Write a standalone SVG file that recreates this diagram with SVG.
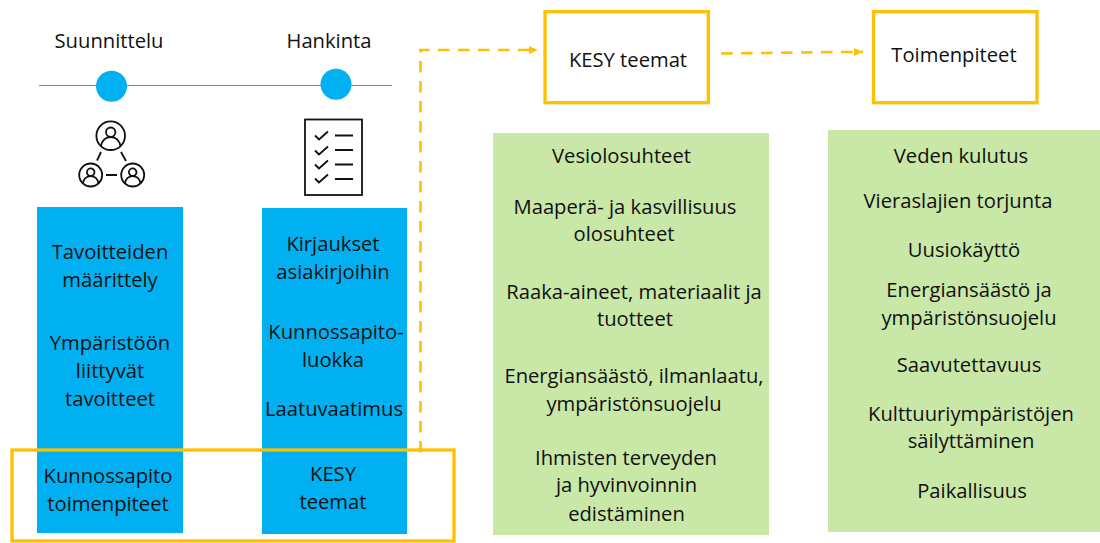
<svg xmlns="http://www.w3.org/2000/svg" width="1100" height="543" viewBox="0 0 1100 543">
<defs>
<marker id="ah" markerUnits="userSpaceOnUse" markerWidth="11" markerHeight="10" refX="10" refY="5" orient="auto"><path d="M1 1L10 5L1 9Z" fill="#ffc000"/></marker>
<g id="person"><circle cx="0" cy="0" r="14.300" class="ic"/><circle cx="0" cy="-3.500" r="4.700" class="ic"/><path d="M-9.800 10.300C-8 3 -4 1.500 0 1.500C4 1.500 8 3 9.800 10.300" class="ic"/></g>
<g id="person2"><circle cx="0" cy="0" r="11.500" class="ic"/><circle cx="0" cy="-2.800" r="3.800" class="ic"/><path d="M-7.800 8.300C-6.500 2.500 -3 1.200 0 1.200C3 1.200 6.500 2.500 7.800 8.300" class="ic"/></g>
</defs>
<style>
text{font-family:"Open Sans","Noto Sans","Liberation Sans",sans-serif;font-size:20.200px;fill:#111;text-anchor:middle}
.blue{fill:#00b0f0}
.green{fill:#c9e7a7}
.gold{fill:none;stroke:#ffc000;stroke-width:3.300}
.ic{fill:none;stroke:#111;stroke-width:1.800}
.dash{fill:none;stroke:#ffc000;stroke-width:2.600;stroke-dasharray:11.500 8.500}
</style>
<rect width="1100" height="543" fill="#fff"/>
<g id="timeline">
<line x1="39" y1="85.500" x2="392" y2="85.500" stroke="#00b0f0" stroke-width="1"/>
</g>
<g id="suunnittelu"><text x="109" y="48">Suunnittelu</text><circle class="blue" cx="111.500" cy="86.300" r="15.500"/></g>
<g id="hankinta"><text x="329" y="48">Hankinta</text><circle class="blue" cx="336" cy="84.300" r="15.500"/></g>
<g id="icon-people">
<use href="#person" x="110.700" y="135.700"/><use href="#person2" x="90.700" y="175"/><use href="#person2" x="132.700" y="175"/>
<path d="M101 152L97 160.500M121 152L126 161M106 175H117" class="ic"/>
</g>
<g id="icon-checklist">
<rect x="305" y="119.500" width="57" height="75.500" fill="none" stroke="#111" stroke-width="1.800"/>
<path d="M315 135.500L319 139.500L328 131.500M315 150.500L319 154.500L328 146.500M315 164.500L319 168.500L328 160.500M315 178.500L319 182.500L328 174.500M335 135.500H353M335 150H353M335 164.500H353M335 179H353" class="ic"/>
</g>
<g id="col-suunnittelu">
<rect class="blue" x="37" y="207" width="146" height="326"/>
<text x="110" y="259">Tavoitteiden</text><text x="110" y="287">määrittely</text>
<text x="110" y="350">Ympäristöön</text><text x="110" y="378">liittyvät</text><text x="110" y="406">tavoitteet</text>
<text x="108" y="483">Kunnossapito</text><text x="108" y="511">toimenpiteet</text>
</g>
<g id="col-hankinta">
<rect class="blue" x="262" y="208" width="145" height="326"/>
<text x="333" y="251">Kirjaukset</text><text x="333" y="279">asiakirjoihin</text>
<text x="336" y="339">Kunnossapito-</text><text x="333" y="367">luokka</text>
<text x="334" y="416">Laatuvaatimus</text>
<text x="333" y="481">KESY</text><text x="333" y="509">teemat</text>
</g>
<g id="highlight"><rect class="gold" x="12" y="450" width="442" height="91"/></g>
<g id="connectors">
<path class="dash" d="M420.500 452.500V50H538" marker-end="url(#ah)"/>
<path class="dash" d="M721 53.500L863 51.800" marker-end="url(#ah)"/>
</g>
<g id="kesy-teemat"><rect class="gold" x="545" y="11.700" width="163.300" height="91"/><text x="628" y="67">KESY teemat</text></g>
<g id="toimenpiteet"><rect class="gold" x="873.500" y="11.700" width="163.500" height="91"/><text x="954" y="62">Toimenpiteet</text></g>
<g id="list-kesy">
<rect class="green" x="493" y="133" width="276" height="402"/>
<text x="621.500" y="163">Vesiolosuhteet</text>
<text x="625" y="214">Maaperä- ja kasvillisuus</text><text x="624" y="241">olosuhteet</text>
<text x="634" y="299">Raaka-aineet, materiaalit ja</text><text x="635" y="326">tuotteet</text>
<text x="634" y="383">Energiansäästö, ilmanlaatu,</text><text x="634" y="411">ympäristönsuojelu</text>
<text x="626" y="465">Ihmisten terveyden</text><text x="626.500" y="492">ja hyvinvoinnin</text><text x="626.500" y="521">edistäminen</text>
</g>
<g id="list-toimenpiteet">
<rect class="green" x="828" y="130" width="272" height="402"/>
<text x="961" y="163">Veden kulutus</text>
<text x="958" y="208">Vieraslajien torjunta</text>
<text x="964" y="257">Uusiokäyttö</text>
<text x="969" y="297">Energiansäästö ja</text><text x="969" y="325">ympäristönsuojelu</text>
<text x="969" y="372">Saavutettavuus</text>
<text x="971" y="421">Kulttuuriympäristöjen</text><text x="971" y="448">säilyttäminen</text>
<text x="972" y="498">Paikallisuus</text>
</g>
</svg>
